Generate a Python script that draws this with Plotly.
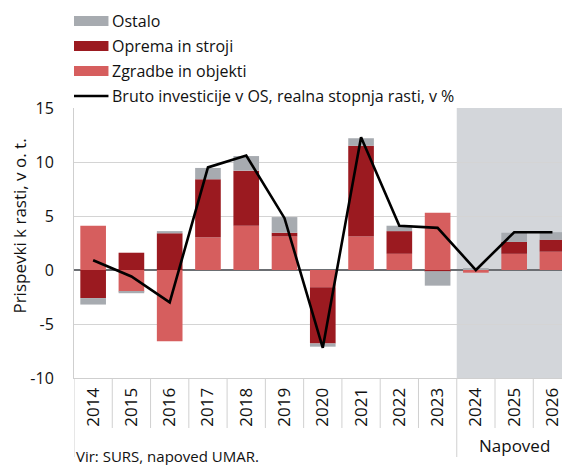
import plotly.graph_objects as go

years = ["2014", "2015", "2016", "2017", "2018", "2019", "2020", "2021", "2022", "2023", "2024", "2025", "2026"]
zgradbe = [4.1, -2.0, -6.6, 3.0, 4.1, 3.1, -1.6, 3.1, 1.5, 5.3, -0.25, 1.5, 1.7]
oprema = [-2.6, 1.6, 3.4, 5.4, 5.1, 0.35, -5.2, 8.4, 2.1, -0.1, 0.0, 1.1, 1.1]
ostalo = [-0.6, -0.15, 0.2, 1.05, 1.35, 1.45, -0.3, 0.7, 0.5, -1.35, 0.15, 0.85, 0.7]
bruto = [0.9, -0.6, -3.0, 9.5, 10.6, 4.8, -7.2, 12.3, 4.1, 3.9, 0.0, 3.5, 3.5]
yticks = [-10, -5, 0, 5, 10, 15]
legend_labels = ["Ostalo", "Oprema in stroji", "Zgradbe in objekti", "Bruto investicije v OS, realna stopnja rasti, v %"]

C_LIGHT = "#d65e5e"
C_DARK = "#9b1a20"
C_GREY = "#a7abb0"
C_SHADE = "#d3d6da"
FONT = "Open Sans"

W, H = 562, 465
L, R, T, B = 73.5, 0, 108, 87
PW = W - L - R
PH = H - T - B


def px(x):
    return (x - L) / PW


def py(y):
    return (H - B - y) / PH


fig = go.Figure()
fig.add_trace(go.Bar(x=years, y=zgradbe, name=legend_labels[2], marker=dict(color=C_LIGHT, line=dict(width=0))))
fig.add_trace(go.Bar(x=years, y=oprema, name=legend_labels[1], marker=dict(color=C_DARK, line=dict(width=0))))
fig.add_trace(go.Bar(x=years, y=ostalo, name=legend_labels[0], marker=dict(color=C_GREY, line=dict(width=0))))
fig.add_trace(go.Scatter(x=years, y=bruto, name=legend_labels[3], mode="lines",
                         line=dict(color="black", width=2.6)))

shapes = []
# forecast shading
shapes.append(dict(type="rect", xref="x", yref="y", x0=9.5, x1=13, y0=-10, y1=15,
                   fillcolor=C_SHADE, line=dict(width=0), layer="below"))
# category dividers below axis
for i in range(len(years)):
    long = i in (0, 10)
    shapes.append(dict(type="line", xref="x", yref="paper", x0=i - 0.5, x1=i - 0.5,
                       y0=0, y1=py(457) if long else py(428),
                       line=dict(color="#d0d0d0", width=1)))

# custom legend
sw_x0, sw_x1 = 73.5, 108
rows = [21, 46, 71, 96]
colors = [C_GREY, C_DARK, C_LIGHT]
annotations = []
for k, lab in enumerate(legend_labels):
    yc = rows[k]
    if k < 3:
        shapes.append(dict(type="rect", xref="paper", yref="paper", x0=px(sw_x0), x1=px(sw_x1),
                           y0=py(yc + 5), y1=py(yc - 5), fillcolor=colors[k], line=dict(width=0)))
    else:
        shapes.append(dict(type="line", xref="paper", yref="paper", x0=px(sw_x0), x1=px(sw_x1),
                           y0=py(yc), y1=py(yc), line=dict(color="black", width=2.6)))
    annotations.append(dict(xref="paper", yref="paper", x=px(110), y=py(yc), xanchor="left", yanchor="middle",
                            text=lab, showarrow=False, font=dict(size=16, color="#111111", family=FONT)))

annotations.append(dict(xref="paper", yref="paper", x=px(18), y=py(226), text="Prispevki k rasti, v o. t.",
                        textangle=-90, showarrow=False, xanchor="center", yanchor="middle",
                        font=dict(size=17, color="#111111", family=FONT)))
annotations.append(dict(xref="x", yref="paper", x=11, y=py(445), text="Napoved", showarrow=False,
                        xanchor="center", yanchor="middle", font=dict(size=17, color="#111111", family=FONT)))
annotations.append(dict(xref="paper", yref="paper", x=px(74), y=py(456), text="Vir: SURS, napoved UMAR.",
                        showarrow=False, xanchor="left", yanchor="middle",
                        font=dict(size=15, color="#111111", family=FONT)))

fig.update_layout(
    width=W, height=H,
    margin=dict(l=L, r=R, t=T, b=B, pad=0, autoexpand=False),
    paper_bgcolor="white", plot_bgcolor="white",
    barmode="relative", bargap=0.33,
    showlegend=False,
    shapes=shapes, annotations=annotations,
    font=dict(family=FONT, color="#111111"),
    xaxis=dict(type="category", range=[-0.5, 12.25], tickangle=-90, ticks="", showgrid=False,
               automargin=False,
               showline=True, linecolor="#cfcfcf", linewidth=1, zeroline=False,
               tickfont=dict(size=17, family=FONT, color="#111111"), ticklabelstandoff=2),
    yaxis=dict(range=[-10, 15], tickvals=yticks, ticktext=[str(v) for v in yticks], showgrid=True,
               automargin=False,
               gridcolor="#d4d4d4", gridwidth=1, zeroline=True, zerolinecolor="#6b6e72", zerolinewidth=1.5,
               showline=True, linecolor="#cfcfcf", linewidth=1, ticks="",
               tickfont=dict(size=16, family=FONT, color="#111111"), ticklabelstandoff=16),
)

fig.write_html("out.html", config={"displayModeBar": False},
               post_script="document.body.style.margin='0';document.body.style.padding='0';"
                           "document.body.style.overflow='hidden';")
